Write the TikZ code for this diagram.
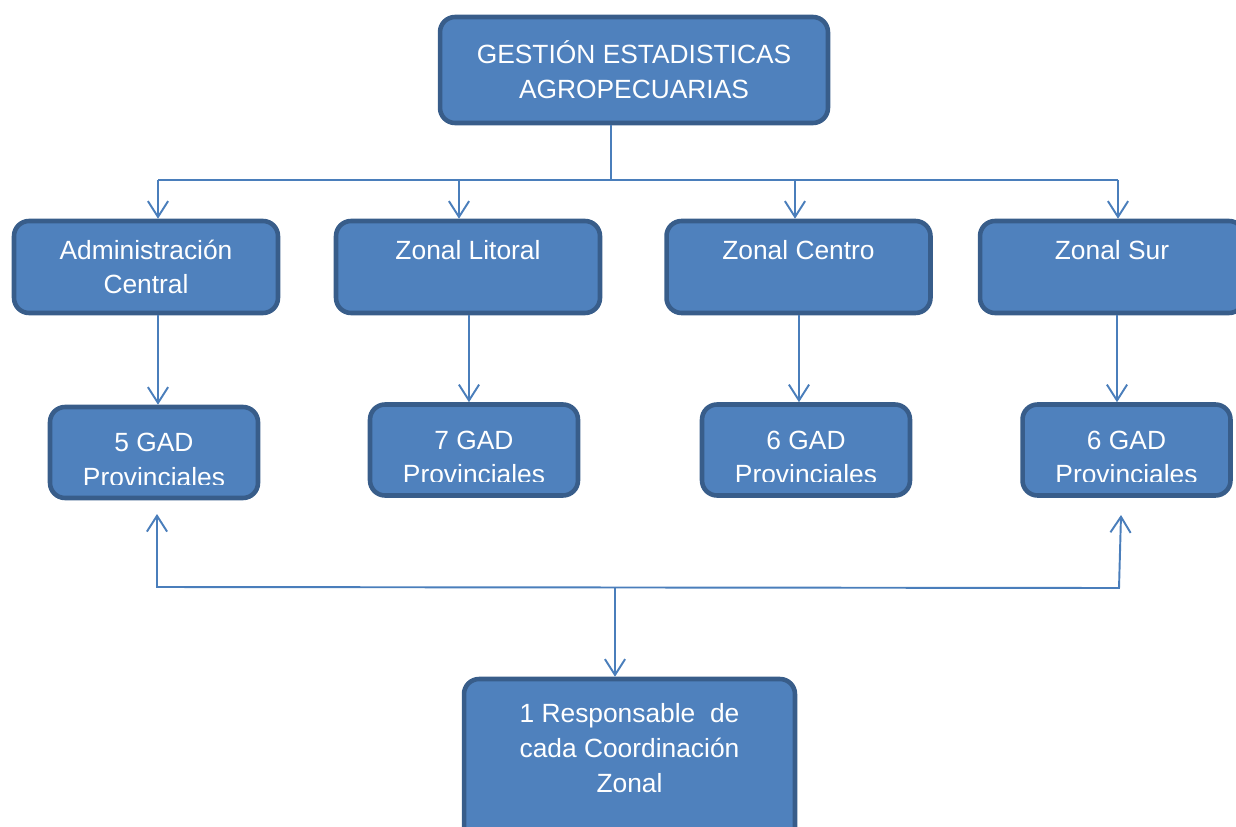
\documentclass[tikz,border=0pt]{standalone}
\usepackage{fontspec}
\setmainfont{Liberation Sans}
\usetikzlibrary{arrows.meta}

\definecolor{boxfill}{HTML}{4F81BD}
\definecolor{boxline}{HTML}{385D8A}
\definecolor{linkline}{HTML}{4A7EBB}

\tikzset{
  barb/.tip={Straight Barb[length=9pt, width=11.5pt, line width=1.1pt]},
  boxtext/.style={text=white, align=center, inner sep=0pt, font=\fontsize{15}{19.8}\selectfont},
  box/.style={boxtext, draw=boxline, fill=boxfill, line width=2.6pt, rounded corners=0.3cm},
  bigbox/.style={box, minimum width=7.76cm, minimum height=2.12cm},
  zonebox/.style={box, minimum width=5.28cm, minimum height=1.84cm},
  gadbox/.style={box, minimum width=4.16cm, minimum height=1.82cm},
  respbox/.style={box, minimum width=6.62cm, minimum height=3.28cm},
  link/.style={draw=linkline, line width=1.1pt},
  arr/.style={link, -barb},
}

\begin{document}
\begin{tikzpicture}[x=0.02cm, y=-0.02cm]

  \clip (0,0) rectangle (1236,827);

  % Top box
  \node[bigbox] (gestion) at (634,70) {GESTIÓN ESTADISTICAS\\AGROPECUARIAS};

  % Zonal boxes
  \node[zonebox] (admin) at (146,267) {Administración\\Central};
  \node[zonebox] (litoral) at (468,267) {Zonal Litoral\\\mbox{}};
  \node[zonebox] (centro) at (798.5,267) {Zonal Centro\\\mbox{}};
  \node[zonebox] (sur) at (1112,267) {Zonal Sur\\\mbox{}};

  % GAD boxes (text cut at the bottom)
  \node[gadbox] (gad5) at (154,452.5) {};
  \node[gadbox] (gad7) at (474,450) {};
  \node[gadbox] (gad6c) at (806,450) {};
  \node[gadbox] (gad6s) at (1126.5,450) {};
  \begin{scope}
    \clip (gad5.north west) rectangle ([yshift=0.32cm]gad5.south east);
    \node[boxtext] at ([yshift=-0.15cm]gad5.center) {5 GAD\\Provinciales};
  \end{scope}
  \begin{scope}
    \clip (gad7.north west) rectangle ([yshift=0.32cm]gad7.south east);
    \node[boxtext] at ([yshift=-0.15cm]gad7.center) {7 GAD\\Provinciales};
  \end{scope}
  \begin{scope}
    \clip (gad6c.north west) rectangle ([yshift=0.32cm]gad6c.south east);
    \node[boxtext] at ([yshift=-0.15cm]gad6c.center) {6 GAD\\Provinciales};
  \end{scope}
  \begin{scope}
    \clip (gad6s.north west) rectangle ([yshift=0.32cm]gad6s.south east);
    \node[boxtext] at ([yshift=-0.15cm]gad6s.center) {6 GAD\\Provinciales};
  \end{scope}

  % Bottom box
  \node[respbox] (resp) at (629.5,761) {};
  \node[boxtext] at ([yshift=0.26cm]resp.center) {1 Responsable\ \ de\\cada Coordinación\\Zonal};

  % Top bus
  \coordinate (hub) at (611,180);
  \coordinate (d1) at (158,180);
  \coordinate (d2) at (459,180);
  \coordinate (d3) at (795,180);
  \coordinate (d4) at (1118,180);
  \draw[link] (hub |- gestion.south) -- (hub);
  \draw[link] (d1) -- (d4);
  \draw[arr] (d1) -- (d1 |- admin.north);
  \draw[arr] (d2) -- (d2 |- litoral.north);
  \draw[arr] (d3) -- (d3 |- centro.north);
  \draw[arr] (d4) -- (d4 |- sur.north);

  % Zonal to GAD
  \coordinate (v1) at (158,315);
  \coordinate (v2) at (469,315);
  \coordinate (v3) at (799,315);
  \coordinate (v4) at (1117,315);
  \draw[arr] (v1 |- admin.south) -- (v1 |- gad5.north);
  \draw[arr] (v2 |- litoral.south) -- (v2 |- gad7.north);
  \draw[arr] (v3 |- centro.south) -- (v3 |- gad6c.north);
  \draw[arr] (v4 |- sur.south) -- (v4 |- gad6s.north);

  % Bottom bracket
  \coordinate (tl) at (157,514);
  \coordinate (bl) at (157,587);
  \coordinate (br) at (1119,588);
  \coordinate (tr) at (1121,515);
  \coordinate (mid) at (615,587.5);
  \draw[link, barb-barb] (tl) -- (bl) -- (br) -- (tr);
  \draw[arr] (mid) -- (mid |- resp.north);

\end{tikzpicture}
\end{document}
